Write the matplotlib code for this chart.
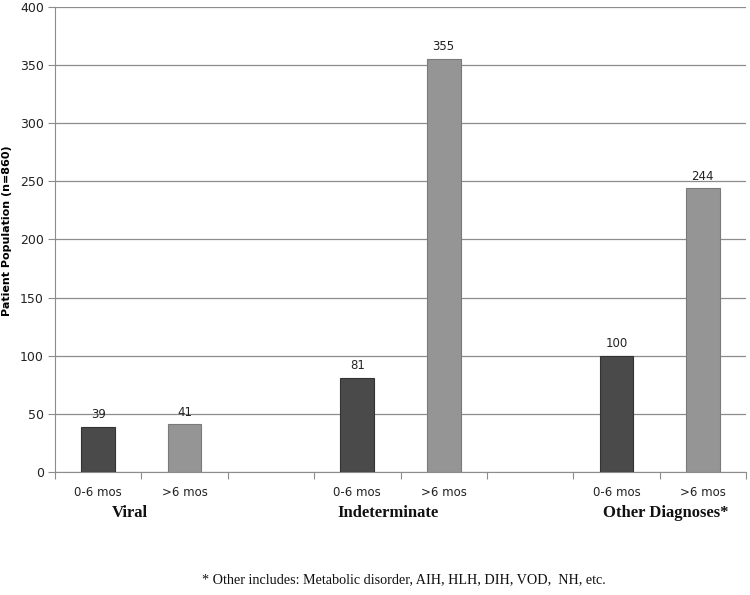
import matplotlib
matplotlib.use("Agg")
import matplotlib.pyplot as plt
import numpy as np

groups = ["Viral", "Indeterminate", "Other Diagnoses*"]
periods = ["0-6 mos", ">6 mos"]
early_values = [39, 81, 100]
late_values = [41, 355, 244]
yticks = [0, 50, 100, 150, 200, 250, 300, 350, 400]
footnote = "* Other includes: Metabolic disorder, AIH, HLH, DIH, VOD,  NH, etc."

dark = "#4a4a4a"
light = "#959595"

fig = plt.figure(figsize=(7.5, 5.95), dpi=100)
ax = fig.add_axes([55/750, 1-472/595, 691/750, 465/595])

xpos_early = [0, 3, 6]
xpos_late = [1, 4, 7]
w = 0.39
b1 = ax.bar(xpos_early, early_values, width=w, color=dark, edgecolor="#333333", linewidth=0.8, zorder=3)
b2 = ax.bar(xpos_late, late_values, width=w, color=light, edgecolor="#7a7a7a", linewidth=0.8, zorder=3)
for bars, vals in ((b1, early_values), (b2, late_values)):
    for r, v in zip(bars, vals):
        ax.text(r.get_x() + r.get_width()/2, v + 5, str(v), ha="center", va="bottom",
                fontsize=8.5, color="#222222", zorder=4)

ax.set_xlim(-0.5, 7.5)
ax.set_ylim(0, 400)
ax.set_yticks(yticks)
ax.yaxis.grid(True, color="#8c8c8c", linewidth=0.9, zorder=0)
ax.set_axisbelow(True)
ax.tick_params(axis="y", length=5, color="#8c8c8c", labelsize=9, labelcolor="#222222", pad=3)

# x ticks at slot boundaries, labels at slot centers
ax.set_xticks(np.arange(-0.5, 7.6, 1.0))
ax.set_xticklabels([])
pos = sorted(xpos_early + xpos_late)
ax.set_xticks(pos, minor=True)
ax.set_xticklabels([periods[0] if p in xpos_early else periods[1] for p in pos], minor=True)
ax.tick_params(axis="x", which="major", length=5, color="#8c8c8c")
ax.tick_params(axis="x", which="minor", length=0, labelsize=8.5, labelcolor="#222222", pad=10)

for s in ["top", "right"]:
    ax.spines[s].set_visible(False)
ax.spines["left"].set_color("#8c8c8c")
ax.spines["bottom"].set_color("#8c8c8c")

ax.set_ylabel("Patient Population (n=860)", fontsize=8, fontweight="bold")
ax.yaxis.set_label_coords(-0.062, 0.52)

group_x = [0.37, 3.35, 6.57]
for gx, g in zip(group_x, groups):
    ax.text(gx, -0.088, g, transform=ax.get_xaxis_transform(), ha="center", va="center",
            fontsize=12, fontweight="bold", family="Liberation Serif", color="#111111")

fig.text(404/750, 1 - 580/595, footnote, ha="center", va="center", fontsize=10.2,
         family="Liberation Serif", color="#111111")

fig.savefig("out.png", dpi=100)
